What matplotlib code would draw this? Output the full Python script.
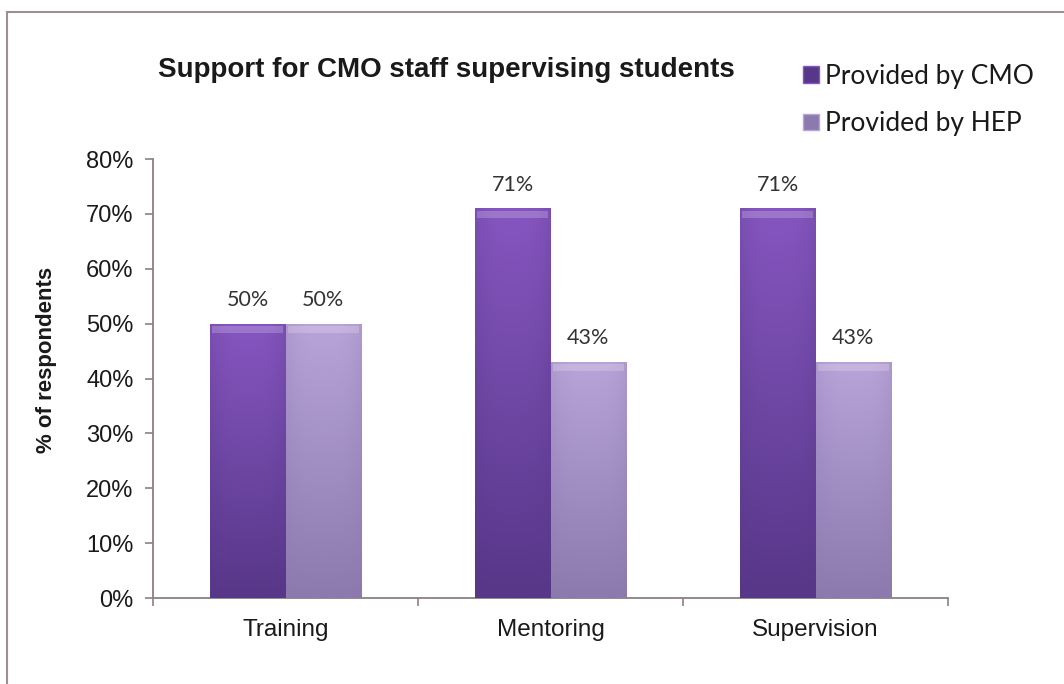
import numpy as np
import matplotlib
matplotlib.use("Agg")
import matplotlib.pyplot as plt
from matplotlib.lines import Line2D
from matplotlib.colors import LinearSegmentedColormap
from matplotlib.patches import Rectangle

# data
categories = ["Training", "Mentoring", "Supervision"]
series_names = ["Provided by CMO", "Provided by HEP"]
cmo_values = [50, 71, 71]
hep_values = [50, 43, 43]
yticks = [0, 10, 20, 30, 40, 50, 60, 70, 80]

# colours (top, bottom) for the shaded bars
CMO_TOP, CMO_BOT = "#8656c0", "#573788"
HEP_TOP, HEP_BOT = "#b8a4d8", "#8c79ae"
AXIS = "#8c8080"
TXT = "#1a1a1a"

fig = plt.figure(figsize=(10.64, 6.84), dpi=100)
fig.patch.set_facecolor("white")
ax = fig.add_axes([0.1438, 0.1257, 0.891 - 0.1438, 0.7675 - 0.1257])

# outer frame (top and left edges only)
fig.add_artist(Line2D([7 / 1064, 1.0], [1 - 12 / 684, 1 - 12 / 684],
                      color="#9a9090", lw=1.5, transform=fig.transFigure))
fig.add_artist(Line2D([7 / 1064, 7 / 1064], [0.0, 1 - 12 / 684],
                      color="#9a9090", lw=1.5, transform=fig.transFigure))

x = np.arange(len(categories))
w = 0.285


def shaded_bars(xs, vals, top, bot):
    cmap = LinearSegmentedColormap.from_list("g", [bot, top])
    grad = np.linspace(1, 0, 256).reshape(-1, 1)
    # darker edges left/right
    side = 1 - 0.25 * np.abs(np.linspace(-1, 1, 64)) ** 3
    bars = ax.bar(xs, vals, w, color=bot, edgecolor="none", zorder=2)
    for b in bars:
        x0, h = b.get_x(), b.get_height()
        img = grad * side.reshape(1, -1)
        im = ax.imshow(img, extent=[x0, x0 + w, 0, h], aspect="auto",
                       cmap=cmap, vmin=0, vmax=1, origin="upper", zorder=3)
        im.set_clip_path(b)
        # soft bevel along the top edge
        ax.add_patch(Rectangle((x0 + 0.008, h - 1.7), w - 0.016, 1.3,
                               facecolor="white", alpha=0.2,
                               edgecolor="none", zorder=4))
    return bars


b1 = shaded_bars(x - w / 2, cmo_values, CMO_TOP, CMO_BOT)
b2 = shaded_bars(x + w / 2, hep_values, HEP_TOP, HEP_BOT)

for xs, vals in ((x - w / 2, cmo_values), (x + w / 2, hep_values)):
    for xi, v in zip(xs, vals):
        ax.text(xi, v + 2.5, f"{v}%", ha="center", va="bottom",
                fontsize=15.5, color="#333333", family="Lato")

ax.set_xlim(-0.5, 2.5)
ax.set_ylim(0, 80)
ax.set_yticks(yticks)
ax.set_yticklabels([f"{t}%" for t in yticks], fontsize=17,
                   family="Liberation Sans", color=TXT)
ax.set_xticks(x)
ax.set_xticklabels(categories, fontsize=17.5, family="Liberation Sans", color=TXT)
ax.set_xticks([-0.5, 0.5, 1.5, 2.5], minor=True)
ax.tick_params(axis="x", which="major", length=0, pad=15)
ax.tick_params(axis="x", which="minor", length=6, color=AXIS, width=1.2)
ax.tick_params(axis="y", length=6, color=AXIS, width=1.2, pad=8)

for s in ("top", "right"):
    ax.spines[s].set_visible(False)
for s in ("left", "bottom"):
    ax.spines[s].set_color(AXIS)
    ax.spines[s].set_linewidth(1.3)

ax.set_ylabel("% of respondents", fontsize=16, fontweight="bold",
              family="Liberation Sans", color=TXT)
ax.yaxis.set_label_coords(-0.121, 0.542)

fig.text(158 / 1064, 1 - 70 / 684, "Support for CMO staff supervising students",
         fontsize=20, fontweight="bold", family="Liberation Sans", color=TXT,
         va="center", ha="left")

# legend
handles = [Rectangle((0, 0), 1, 1, facecolor=CMO_BOT, edgecolor=CMO_TOP),
           Rectangle((0, 0), 1, 1, facecolor=HEP_BOT, edgecolor=HEP_TOP)]
leg = fig.legend(handles, series_names, loc="upper left",
                 bbox_to_anchor=(779 / 1064, 1 - 40 / 684),
                 frameon=False, handlelength=0.6, handleheight=0.6,
                 handletextpad=0.25, labelspacing=0.85,
                 prop={"family": "Lato", "size": 19})
for t in leg.get_texts():
    t.set_color(TXT)

fig.savefig("out.png", dpi=100)
